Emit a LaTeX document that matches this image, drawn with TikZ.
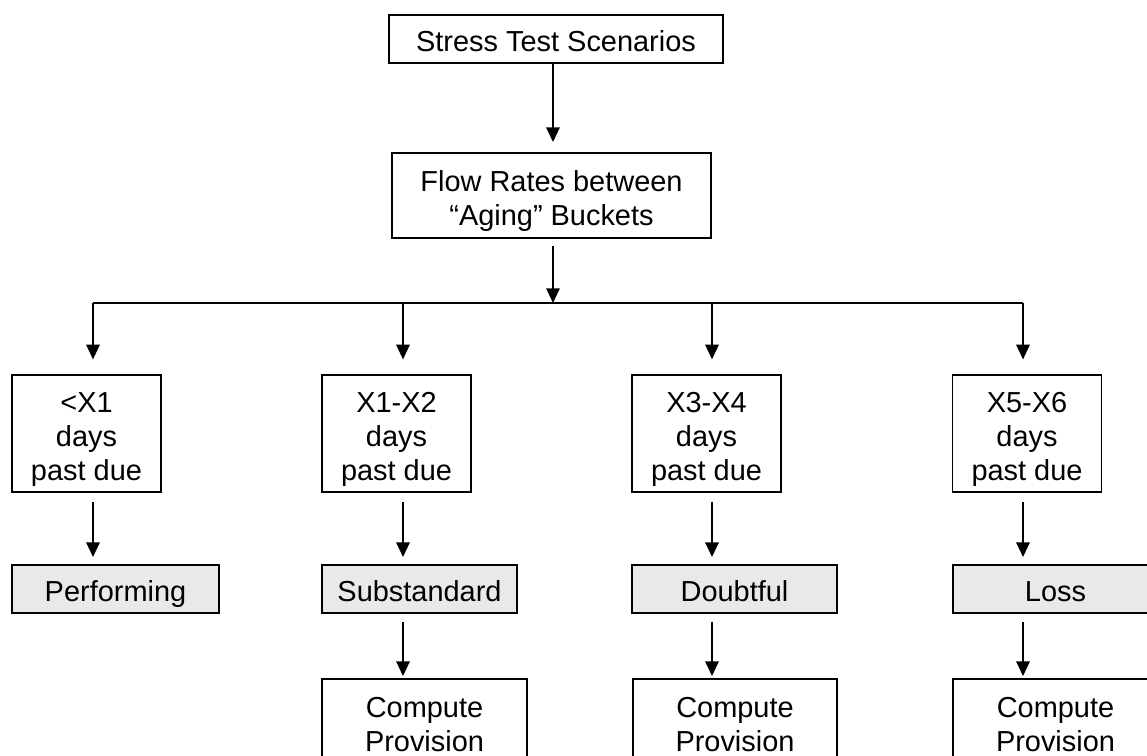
\documentclass[tikz,border=0pt]{standalone}
\usepackage{fontspec}
\setmainfont{Liberation Sans}
\usetikzlibrary{arrows.meta}
\newcommand{\mltext}[1]{\begin{tabular}[t]{@{}c@{}}#1\end{tabular}}
\begin{document}
\begin{tikzpicture}[x=0.75pt,y=-0.75pt,
  font=\fontsize{21.7pt}{25.5pt}\selectfont,
  box/.style={draw=black,line width=1.4pt,inner sep=0pt,fill=white},
  oneline/.style={box,text height=19pt,text depth=0pt},
  twoline/.style={box,text height=19pt,text depth=25.5pt},
  threeline/.style={box,text height=19pt,text depth=51pt},
  greybox/.style={oneline,fill={rgb,255:red,233;green,233;blue,233}},
  conn/.style={line width=1.4pt,draw=black},
  arr/.style={conn,-{Triangle[length=11pt,width=10pt]}}]
\clip (0,0) rectangle (1147,756);
\fill[white] (0,0) rectangle (1147,756);
% top boxes
\node[oneline,minimum width=334*0.75pt,minimum height=48*0.75pt] (stress) at (556,39) {Stress Test Scenarios};
\node[twoline,minimum width=319*0.75pt,minimum height=85*0.75pt] (flow) at (551.5,195.5) {\mltext{Flow Rates between\\“Aging” Buckets}};
% day buckets
\foreach \n/\cx/\t in {d1/86.5/{<X1},d2/396.5/{X1-X2},d3/706.5/{X3-X4},d4/1027/{X5-X6}}
  \node[threeline,minimum width=149*0.75pt,minimum height=117*0.75pt] (\n) at (\cx,433.5) {\mltext{\t\\days\\past due}};
% grey classes
\node[greybox,minimum width=207*0.75pt,minimum height=48*0.75pt] (g1) at (115.5,589) {Performing};
\node[greybox,minimum width=195*0.75pt,minimum height=48*0.75pt] (g2) at (419.5,589) {Substandard};
\node[greybox,minimum width=205*0.75pt,minimum height=48*0.75pt] (g3) at (734.5,589) {Doubtful};
\node[greybox,minimum width=205*0.75pt,minimum height=48*0.75pt] (g4) at (1055.5,589) {Loss};
% compute provision
\node[twoline,minimum width=205*0.75pt,minimum height=85*0.75pt] (c2) at (424.5,721.5) {\mltext{Compute\\Provision}};
\node[twoline,minimum width=204*0.75pt,minimum height=85*0.75pt] (c3) at (735,721.5) {\mltext{Compute\\Provision}};
\node[twoline,minimum width=205*0.75pt,minimum height=85*0.75pt] (c4) at (1055.5,721.5) {\mltext{Compute\\Provision}};
% coordinates
\coordinate (spine) at (553,303);
\coordinate (b1) at (93,303);
\coordinate (b2) at (403,303);
\coordinate (b3) at (712,303);
\coordinate (b4) at (1023,303);
% connectors
\draw[arr,shorten >=7.5pt] (stress.south -| spine) -- (flow.north -| spine);
\draw[arr,shorten <=5pt] (flow.south -| spine) -- (spine);
\draw[conn] (b1) -- (b4);
\foreach \i in {1,2,3,4}{
  \draw[arr,shorten >=11pt] (b\i) -- (d\i.north -| b\i);
  \draw[arr,shorten <=6.75pt,shorten >=5.25pt] (d\i.south -| b\i) -- (g\i.north -| b\i);
}
\foreach \i in {2,3,4}
  \draw[arr,shorten <=6pt,shorten >=1.5pt] (g\i.south -| b\i) -- (c\i.north -| b\i);
\end{tikzpicture}
\end{document}
